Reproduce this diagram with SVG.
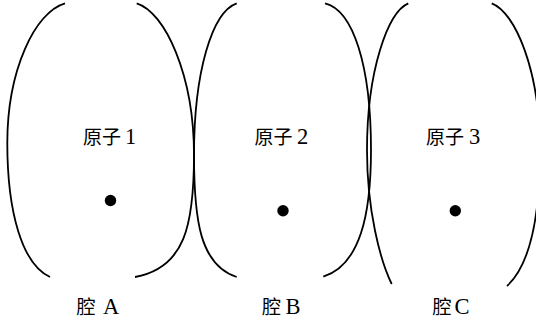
<svg xmlns="http://www.w3.org/2000/svg" width="536" height="321" viewBox="0 0 536 321">
<style>
.arc{fill:none;stroke:#000;stroke-width:1.8;stroke-linecap:butt}
.dot{fill:#000}
.cjk{font-family:"Noto Sans CJK SC","Noto Sans CJK JP",sans-serif;font-size:19px;fill:#000}
.lat{font-family:"Liberation Serif","DejaVu Serif",serif;font-size:22.5px;fill:#000}
</style>
<rect width="536" height="321" fill="#fff"/>
<g id="cavity-A">
<path class="arc" d="M65,3.3 C35,12 7.3,70 7.3,143 C7.3,212 22,264 50,277"/>
<path class="arc" d="M136.7,3.3 C165,12 194,75 194,155 C194,225 185,268 135,277"/>
<text y="313.5"><tspan class="cjk" x="76.5">腔</tspan><tspan class="lat" x="103">A</tspan></text>
</g>
<g id="cavity-B">
<path class="arc" d="M236.7,3.3 C212,12 194,72 194,155 C194,220 200,265 236.7,277"/>
<path class="arc" d="M325,3.3 C353,10 371,65 371,150 C371,215 360,265 323.3,276.7"/>
<text y="313.5"><tspan class="cjk" x="262">腔</tspan><tspan class="lat" x="285.5">B</tspan></text>
</g>
<g id="cavity-C">
<path class="arc" d="M408.3,3.3 C388,12 367,70 367,150 C367,210 380,260 391.7,284"/>
<path class="arc" d="M491.7,3.3 C515,12 540,70 540,150 C540,215 530,265 507,286"/>
<text y="313.5"><tspan class="cjk" x="432.5">腔</tspan><tspan class="lat" x="454.5">C</tspan></text>
</g>
<g id="atom-1">
<circle class="dot" cx="110.5" cy="200.5" r="5.7"/>
<text y="143.5"><tspan class="cjk" x="83">原子</tspan><tspan class="lat" x="125">1</tspan></text>
</g>
<g id="atom-2">
<circle class="dot" cx="283" cy="210.7" r="5.7"/>
<text y="143.5"><tspan class="cjk" x="254.5">原子</tspan><tspan class="lat" x="297">2</tspan></text>
</g>
<g id="atom-3">
<circle class="dot" cx="455.3" cy="210.7" r="5.7"/>
<text y="143.5"><tspan class="cjk" x="426">原子</tspan><tspan class="lat" x="469">3</tspan></text>
</g>
<g id="connectors"/>
</svg>
